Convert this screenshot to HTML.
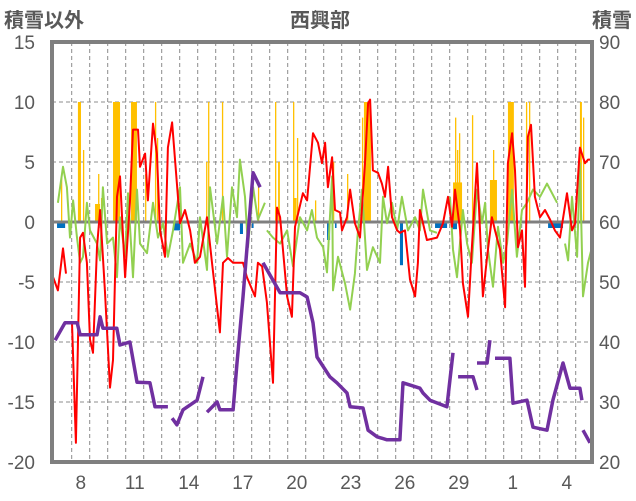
<!DOCTYPE html>
<html><head><meta charset="utf-8"><style>
body{margin:0;background:#fff;}
svg{display:block;font-family:"Liberation Sans","Noto Sans CJK JP",sans-serif;}
</style></head><body>
<svg id="chart" width="636" height="501" viewBox="0 0 636 501" xmlns="http://www.w3.org/2000/svg">
<g id="grid"></g>
<g id="bars"></g>
<g id="lines"></g>
<g id="axes"></g>
<text x="4" y="27" font-size="20" fill="#595959" font-weight="bold">積雪以外</text>
<text x="320" y="27" font-size="20" fill="#595959" font-weight="bold" text-anchor="middle">西興部</text>
<text x="632" y="27" font-size="20" fill="#595959" font-weight="bold" text-anchor="end">積雪</text>
</svg>
<script>
const leftTicks=[15,10,5,0,-5,-10,-15,-20];
const rightTicks=[90,80,70,60,50,40,30,20];
const dayLabels=["8","11","14","17","20","23","26","29","1","4"];
const dayLabelT=[1.6,4.6,7.6,10.6,13.6,16.6,19.6,22.6,25.6,28.6];
const snowT=[0.17,0.72,1.4,1.56,2.5,2.67,2.83,3.6,3.78,4.33,4.72,5.44,5.72,6.44,null,6.67,6.94,7.28,8.06,8.39,null,8.61,9.17,9.33,10.06,10.28,10.61,11.17,11.56,null,11.72,12.67,13.78,14.17,14.5,14.72,15.44,15.83,16.39,16.56,17.28,17.56,18.06,18.61,19.33,19.5,20.44,20.61,21,21.94,22.28,null,22.56,23.39,23.61,null,23.61,24.17,24.33,null,24.61,25.44,25.61,26.39,26.72,27.5,27.83,28.39,28.78,29.33,29.44,null,29.5,29.89];
const snowV=[40.3,43.2,43.2,41.2,41.2,44.2,42.3,42.3,39.5,40,33.3,33.2,29.2,29.2,null,27.3,26.2,28.7,30.3,34.2,null,28.3,30,28.7,28.7,36.5,47.5,68.2,65.8,null,53.2,48.2,48.2,47.5,43.2,37.5,34.2,33.2,31.5,29.2,29,25.3,24.2,23.7,23.7,33.2,32.3,31.5,30.3,29.2,38.2,null,34.2,34.2,32,null,36.5,36.5,40.3,null,37.3,37.3,29.8,30.3,25.8,25.3,30.3,36.5,32.3,32.3,30.3,null,25.3,23.2];
const tempT=[0.06,0.33,0.61,0.78,null,1.11,1.33,1.56,1.72,1.94,2.11,2.28,2.5,2.67,2.94,3.22,3.39,3.61,3.78,4.06,4.33,4.5,4.78,4.89,5.17,5.33,5.61,5.83,6,6.28,6.44,6.67,6.94,7.11,7.39,7.67,7.94,8.22,8.61,8.89,9.33,9.5,9.78,10.06,10.61,10.83,11.28,11.44,11.67,11.94,12.28,12.5,12.67,13.06,13.33,13.5,13.94,14.17,14.5,14.78,15,15.17,15.33,15.56,15.72,16,16.11,16.39,16.56,16.83,17.11,17.39,17.56,17.67,17.83,18.11,18.33,18.5,18.67,18.89,19.17,19.33,19.61,19.89,20.17,20.33,20.44,20.83,21.39,21.72,22,22.22,22.39,22.67,22.83,23.11,23.33,23.61,23.78,23.94,24.17,24.44,24.61,24.89,25.17,25.33,25.56,25.72,25.89,26.11,26.28,26.44,26.61,26.83,27.11,27.39,27.67,27.94,28.22,28.61,28.89,29.06,29.33,29.61,29.78,30];
const tempV=[-4.6,-5.7,-2.2,-4.3,null,-8.4,-18.4,-1.3,-0.9,-3.4,-9.8,-10.9,-2.1,1,-5.7,-13.8,-11.5,2.1,3.8,-4.6,1.6,7.7,7.7,4.6,5.7,1.8,8.2,5.7,-0.7,-2.9,6.2,8.3,3.2,-0.1,1,-0.7,-3.4,-2.9,0.4,-3.4,-9.2,-3.4,-3,-3.4,-3.4,-4.6,-6.2,-3.4,-3.7,-6.7,-13.4,1.2,0.4,-6.2,-7.9,-0.4,2.4,1.8,7.4,6.6,4.9,6.6,2.9,5.4,1,0.8,-0.7,0.4,2.7,-0.1,-1.3,4.9,9.9,10.2,4.3,4.1,3.2,2.1,4.6,0.4,-0.7,-0.9,-0.7,-4.8,-6.2,-3.4,1,-1.5,-1.3,-0.1,2.1,-0.4,2.7,-0.7,-5.1,-7.9,-2.1,4.9,-0.7,-6.2,-2.9,0.4,-0.7,-2.3,-7.1,4.9,7.4,4.3,-2.1,-0.7,-5.4,7.1,8.1,2.1,0.4,1,0.2,-0.7,-1.3,2.4,-0.7,-0.1,6.2,4.9,5.2,5.2];
const windT=[0.33,0.61,0.83,1,1.17,1.39,1.56,1.72,1.94,2.11,2.5,2.67,2.83,3.06,3.39,3.61,3.78,4.06,4.22,4.5,4.72,4.89,5.28,5.61,5.89,6.17,6.44,6.72,7.11,7.28,7.67,8.06,8.22,8.61,8.78,9.17,9.5,9.72,10,10.28,10.44,10.72,10.89,11.17,11.44,11.83,null,11.94,12.28,12.67,13.06,13.39,13.78,14.17,14.44,14.72,15.06,15.28,15.56,15.61,15.89,16.28,16.56,16.83,17,17.22,17.5,17.83,18.22,18.39,18.61,18.89,19.17,19.44,19.78,20.17,20.44,20.61,21,21.39,null,22.11,22.28,22.5,22.83,23.06,23.33,23.61,23.89,24.06,24.22,24.5,24.78,25.06,25.28,25.56,25.83,26.11,26.39,26.72,27.11,27.5,28.06,null,28.5,28.67,28.89,29.17,29.33,29.5,29.78,30];
const windV=[1.6,4.6,2.9,-1.3,1.8,-1.3,-3.4,-2.9,1.6,-0.7,-1.8,-3.2,2.9,-1.8,-1.3,-4.6,0.4,-2.9,2.4,-4.6,2.7,-1.8,-2.6,1.6,-1.3,-0.1,-2.9,-0.7,2.9,-3.4,-1.8,-3.4,0.4,-4,2.9,-1.8,2.1,-2.9,2.9,0.4,5.2,2.1,-2.1,2.9,0.2,1.6,null,-0.7,-1.3,-1.8,-0.7,-3.7,0.4,-0.7,1,-1.3,-2.1,-4.2,3.8,-5.7,-2.9,-5.1,-7.3,-4.3,-0.7,2.7,-4,-2.1,-3.4,2.1,-0.1,1.6,-0.7,2.1,-0.7,0.4,-0.7,2.7,-0.7,-0.9,null,2.1,-2.3,-4.6,1,-1.8,-3.4,2.7,-0.1,1.6,-2.3,-5.4,-0.4,-3.4,-1.8,2.7,-2.9,1,1.6,2.7,2.1,3.2,1.6,null,-1.8,-3.2,2.1,-2.9,4.9,-6.2,-3.4,-2.1];
const precipT=[0.5,1.44,1.72,2.39,2.56,2.72,3.39,4.39,5.17,5.72,5.83,8.56,8.67,9.44,11.44,12.39,12.56,13.39,13.39,13.61,14.61,15.61,16.39,17.22,17.33,22.28,22.39,22.5,22.61,23.33,24.33,24.5,25.33,26.33,26.5,29.33,29.5];
const precipDur=[0.05,0.17,0.05,0.28,0.05,0.05,0.39,0.33,0.05,0.05,0.05,0.05,0.05,0.05,0.05,0.05,0.1,0.05,0.2,0.05,0.05,0.05,0.05,0.05,0.39,0.5,0.05,0.05,0.05,0.05,0.39,0.05,0.33,0.05,0.05,0.11,0.05];
const precipV=[4,10,6,1.5,4,2,10,10,4,10,7,5,10,10,3.3,10,5,10,2,7,1.8,5,4,8.7,10,3.3,8.7,6,7.4,8.9,3.5,6,10,10,10,10,8.7];
const dropT=[0.28,2.56,6.72,10.44,11.11,15.28,15.72,19.33,21.28,22.22,24.33,27.56];
const dropDur=[0.45,0.05,0.39,0.17,0.05,0.17,0.05,0.17,0.67,0.28,0.05,0.83];
const dropV=[-0.5,-0.5,-0.7,-1,-0.5,-1.5,-0.5,-3.6,-0.5,-0.6,-0.5,-0.5];

const NS="http://www.w3.org/2000/svg";
const X0=52,X1=592,Y0=42,Y1=462,DAY=18;
const xs=t=>X0+t*DAY;
const yL=v=>222-v*12;
const yR=v=>Y1-(v-20)*6;
function mk(tag,attrs,parent){const e=document.createElementNS(NS,tag);for(const k in attrs)e.setAttribute(k,attrs[k]);parent.appendChild(e);return e;}
const grid=document.getElementById('grid'),bars=document.getElementById('bars'),lines=document.getElementById('lines'),axes=document.getElementById('axes');
leftTicks.forEach((v,i)=>{
  if(v!==0&&v!==15&&v!==-20){const l=mk('line',{x1:X0,x2:X1,y1:yL(v),y2:yL(v),stroke:'#8c8c8c','stroke-dasharray':'4,3','stroke-width':1},grid);
  
  }
  const t=mk('text',{x:35,y:yL(v)+7,'font-size':19,fill:'#595959','text-anchor':'end'},axes);t.textContent=v;
  
  
});
rightTicks.forEach(v=>{
  const t=mk('text',{x:599,y:yR(v)+7,'font-size':19,fill:'#595959'},axes);t.textContent=v;
  
  
});
for(let x=X0+19.7;x<X1;x+=DAY){const l=mk('line',{x1:x,x2:x,y1:Y0,y2:Y1,stroke:'#8c8c8c','stroke-dasharray':'4,3','stroke-width':1},grid);
  
  }
dayLabels.forEach((d,i)=>{const t=mk('text',{x:xs(dayLabelT[i]),y:489,'font-size':19,fill:'#595959','text-anchor':'middle'},axes);t.textContent=d;
  
  });
precipT.forEach((t,i)=>{const w=Math.max(1.3,precipDur[i]*DAY);const r=mk('rect',{x:xs(t),y:yL(precipV[i]),width:w,height:yL(0)-yL(precipV[i]),fill:'#ffc000'},bars);
  
  });
dropT.forEach((t,i)=>{const w=Math.max(1.6,dropDur[i]*DAY);const r=mk('rect',{x:xs(t),y:yL(0),width:w,height:yL(dropV[i])-yL(0),fill:'#0070c0'},bars);
  
  });
const zl=mk('line',{x1:X0,x2:X1,y1:yL(0),y2:yL(0),stroke:'#7f7f7f','stroke-width':3},bars);


function path(T,V,yf){let d='',pen=false;T.forEach((t,i)=>{if(t===null||V[i]===null){pen=false;return;}d+=(pen?'L':'M')+xs(t).toFixed(1)+' '+yf(V[i]).toFixed(1)+' ';pen=true;});return d;}
const wl=mk('path',{d:path(windT,windV,yL),fill:'none',stroke:'#92d050','stroke-width':2,'stroke-linejoin':'round'},lines);


const tl=mk('path',{d:path(tempT,tempV,yL),fill:'none',stroke:'#ff0000','stroke-width':2,'stroke-linejoin':'round'},lines);


const sl=mk('path',{d:path(snowT,snowV,yR),fill:'none',stroke:'#7030a0','stroke-width':3.5,'stroke-linejoin':'round'},lines);


const fr=mk('rect',{x:X0,y:Y0,width:X1-X0,height:Y1-Y0,fill:'none',stroke:'#7f7f7f','stroke-width':4},axes);


</script>
</body></html>
